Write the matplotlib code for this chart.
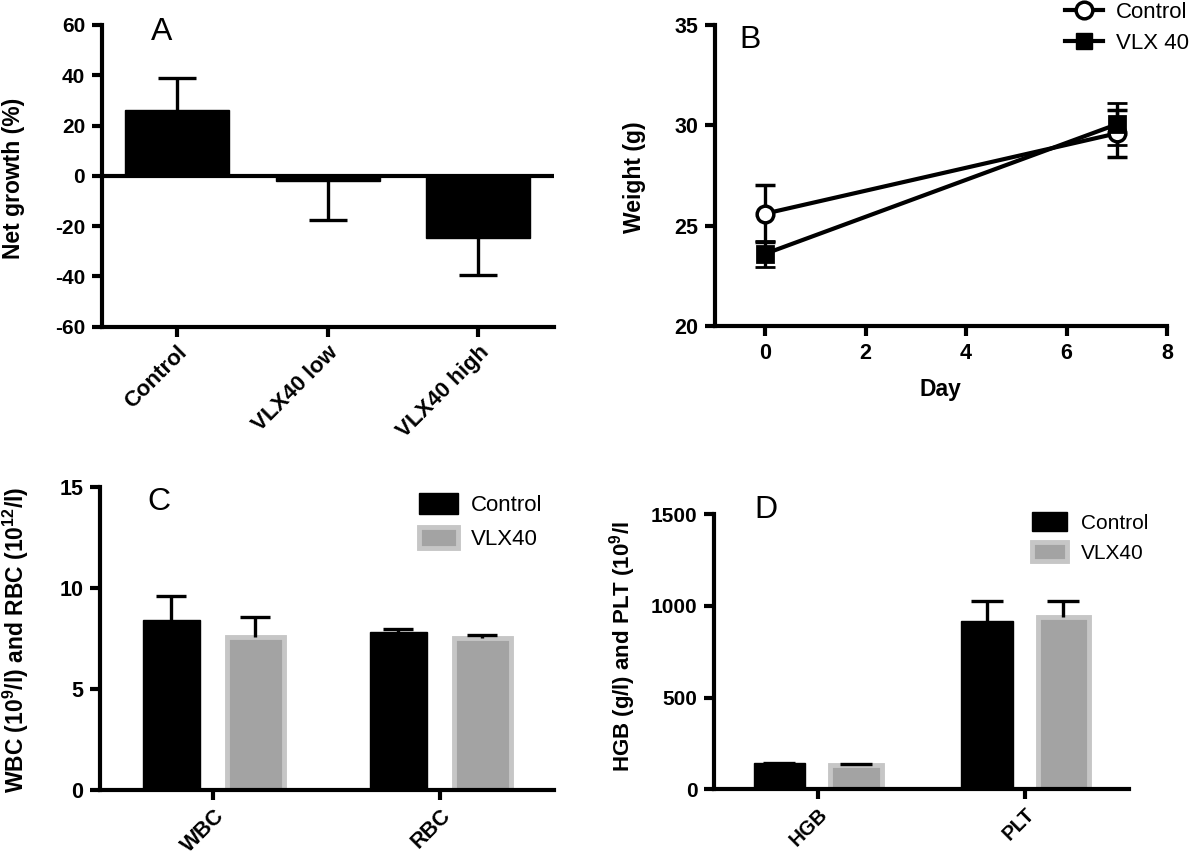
import matplotlib
matplotlib.use('Agg')
import matplotlib.pyplot as plt
import numpy as np
from matplotlib.lines import Line2D
from matplotlib.patches import Patch

plt.rcParams['font.family'] = ['Liberation Sans', 'DejaVu Sans']
plt.rcParams['mathtext.fontset'] = 'custom'
plt.rcParams['mathtext.rm'] = 'Liberation Sans:bold'
plt.rcParams['mathtext.bf'] = 'Liberation Sans:bold'
plt.rcParams['mathtext.default'] = 'rm'
plt.rcParams['axes.unicode_minus'] = False

# ---------------- data ----------------
# Panel A: net growth (%)
a_groups = ['Control', 'VLX40 low', 'VLX40 high']
a_means = [26.3, -2.2, -24.8]
a_err = [12.6, 15.3, 14.6]

# Panel B: weight (g) over days
b_days = [0, 7]
b_control = [25.6, 29.6]
b_control_sd = [1.43, 1.16]
b_vlx = [23.6, 30.05]
b_vlx_sd = [0.65, 1.04]

# Panel C: WBC / RBC
c_groups = ['WBC', 'RBC']
c_control = [8.42, 7.81]
c_control_err = [1.19, 0.17]
c_vlx = [7.60, 7.55]
c_vlx_err = [0.99, 0.13]

# Panel D: HGB / PLT
d_groups = ['HGB', 'PLT']
d_control = [141, 917]
d_control_err = [1, 111]
d_vlx = [132, 937]
d_vlx_err = [4, 91]

series_names = ['Control', 'VLX40']

# ---------------- style ----------------
W, H = 1200, 859
fig = plt.figure(figsize=(W / 100, H / 100), dpi=100)

BLACK = '#000000'
GRAY_FILL = '#a3a3a3'
GRAY_EDGE = '#c6c6c6'
SPINE_LW = 3.0
ERR_LW = 2.4


def P(x, y):
    return x / W, 1 - y / H


def axes_px(left, top, right, bottom):
    return fig.add_axes([left / W, 1 - bottom / H, (right - left) / W, (bottom - top) / H])


def style(ax, ysize=14.5):
    for s in ['top', 'right']:
        ax.spines[s].set_visible(False)
    for s in ['left', 'bottom']:
        ax.spines[s].set_linewidth(SPINE_LW)
        ax.spines[s].set_capstyle('projecting')
    ax.tick_params(axis='both', width=SPINE_LW, length=7, direction='out')
    ax.tick_params(axis='y', labelsize=ysize, pad=5)
    for lab in ax.get_yticklabels():
        lab.set_fontweight('bold')


def err_one_side(ax, x, base, tip, capsize):
    ax.vlines(x, base, tip, colors=BLACK, lw=ERR_LW, zorder=3)
    ax.plot(x, tip, ls='none', marker='_', ms=2 * capsize, mew=ERR_LW,
            color=BLACK, zorder=3)


def rot_xlabels(ax, labels, size):
    ax.set_xticklabels(labels, rotation=45, ha='right', va='top',
                       rotation_mode='anchor', fontsize=size, fontweight='bold')
    ax.tick_params(axis='x', pad=4)


# ---------------- Panel A ----------------
axA = axes_px(101.7, 25, 553.6, 326.7)
xa = np.arange(len(a_groups))
axA.bar(xa, a_means, width=0.69, color=BLACK, edgecolor=BLACK, linewidth=1, zorder=2)
a_means_arr = np.array(a_means)
a_tips = np.where(a_means_arr >= 0, a_means_arr + np.array(a_err), a_means_arr - np.array(a_err))
err_one_side(axA, xa, a_means_arr, a_tips, 14)
axA.axhline(0, color=BLACK, lw=SPINE_LW, zorder=4)
axA.set_xlim(-0.5, 2.5)
axA.set_ylim(-60, 60)
axA.set_yticks(np.arange(-60, 61, 20))
axA.set_xticks(xa)
style(axA, 15)
rot_xlabels(axA, a_groups, 16)
fig.text(*P(14, 178), 'Net growth (%)', rotation=90, ha='center', va='center',
         fontsize=16.5, fontweight='bold')
fig.text(*P(162, 40), 'A', ha='center', va='baseline', fontsize=23)

# ---------------- Panel B ----------------
axB = axes_px(715, 25, 1167, 326)
axB.errorbar(b_days, b_control, yerr=b_control_sd, fmt='-o', color=BLACK,
             mfc='white', mec=BLACK, ms=12, mew=2.5, lw=3, elinewidth=ERR_LW,
             capsize=7, capthick=ERR_LW, label='Control', zorder=3)
axB.errorbar(b_days, b_vlx, yerr=b_vlx_sd, fmt='-s', color=BLACK,
             mfc=BLACK, mec=BLACK, ms=11, mew=2, lw=3, elinewidth=ERR_LW,
             capsize=7, capthick=ERR_LW, label='VLX 40', zorder=3)
axB.set_xlim(-1, 8)
axB.set_ylim(20, 35)
axB.set_yticks([20, 25, 30, 35])
axB.set_xticks([0, 2, 4, 6, 8])
style(axB, 15.5)
axB.tick_params(axis='x', labelsize=15.5, pad=5)
for lab in axB.get_xticklabels():
    lab.set_fontweight('bold')
fig.text(*P(634, 177), 'Weight (g)', rotation=90, ha='center', va='center',
         fontsize=16.5, fontweight='bold')
fig.text(*P(940, 390), 'Day', ha='center', va='center', fontsize=16.5, fontweight='bold')
fig.text(*P(750, 48), 'B', ha='center', va='baseline', fontsize=23)
hB = [Line2D([], [], color=BLACK, lw=3, marker='o', mfc='white', mec=BLACK, ms=12, mew=2.5),
      Line2D([], [], color=BLACK, lw=3, marker='s', mfc=BLACK, mec=BLACK, ms=11)]
axB.legend(hB, ['Control', 'VLX 40'], loc='upper left', bbox_to_anchor=P(1065, 2),
           bbox_transform=fig.transFigure, frameon=False, borderpad=0, borderaxespad=0,
           handlelength=1.7, handletextpad=0.6, labelspacing=0.45, fontsize=16)

# ---------------- Panel C ----------------
axC = axes_px(100, 487.3, 553.7, 790)
xc = np.arange(len(c_groups))
off, bw = 0.185, 0.25
axC.bar(xc - off, c_control, width=bw, color=BLACK, edgecolor=BLACK, linewidth=1, zorder=2)
axC.bar(xc + off, c_vlx, width=bw, color=GRAY_FILL, edgecolor=GRAY_EDGE, linewidth=3.5, zorder=2)
err_one_side(axC, xc - off, np.array(c_control), np.array(c_control) + np.array(c_control_err), 10.5)
err_one_side(axC, xc + off, np.array(c_vlx), np.array(c_vlx) + np.array(c_vlx_err), 10.5)
axC.set_xlim(-0.5, 1.5)
axC.set_ylim(0, 15)
axC.set_yticks([0, 5, 10, 15])
axC.set_xticks(xc)
style(axC, 15.5)
rot_xlabels(axC, c_groups, 15.5)
fig.text(*P(16, 640), r'WBC (10$^{9}$/l) and RBC (10$^{12}$/l)', rotation=90,
         ha='center', va='center', fontsize=16.5, fontweight='bold')
fig.text(*P(159, 510), 'C', ha='center', va='baseline', fontsize=23)
hC = [Patch(facecolor=BLACK, edgecolor=BLACK, linewidth=1),
      Patch(facecolor=GRAY_FILL, edgecolor=GRAY_EDGE, linewidth=3.5)]
axC.legend(hC, series_names, loc='upper left', bbox_to_anchor=P(419, 493),
           bbox_transform=fig.transFigure, frameon=False, borderpad=0, borderaxespad=0,
           handlelength=1.75, handleheight=1.05, handletextpad=0.6, labelspacing=0.5,
           fontsize=16)

# ---------------- Panel D ----------------
axD = axes_px(714.2, 514, 1128.7, 789.3)
xd = np.arange(len(d_groups))
axD.bar(xd - off, d_control, width=bw, color=BLACK, edgecolor=BLACK, linewidth=1, zorder=2)
axD.bar(xd + off, d_vlx, width=bw, color=GRAY_FILL, edgecolor=GRAY_EDGE, linewidth=3.5, zorder=2)
err_one_side(axD, xd - off, np.array(d_control), np.array(d_control) + np.array(d_control_err), 11.5)
err_one_side(axD, xd + off, np.array(d_vlx), np.array(d_vlx) + np.array(d_vlx_err), 11.5)
axD.set_xlim(-0.5, 1.5)
axD.set_ylim(0, 1500)
axD.set_yticks([0, 500, 1000, 1500])
axD.set_xticks(xd)
style(axD, 15)
rot_xlabels(axD, d_groups, 14.5)
fig.text(*P(623, 647), r'HGB (g/l) and PLT (10$^{9}$/l', rotation=90,
         ha='center', va='center', fontsize=16, fontweight='bold')
fig.text(*P(766, 518), 'D', ha='center', va='baseline', fontsize=23)
axD.legend(hC, series_names, loc='upper left', bbox_to_anchor=P(1032, 512),
           bbox_transform=fig.transFigure, frameon=False, borderpad=0, borderaxespad=0,
           handlelength=1.7, handleheight=1.05, handletextpad=0.65, labelspacing=0.45,
           fontsize=15)

fig.savefig('out.png', dpi=100)
